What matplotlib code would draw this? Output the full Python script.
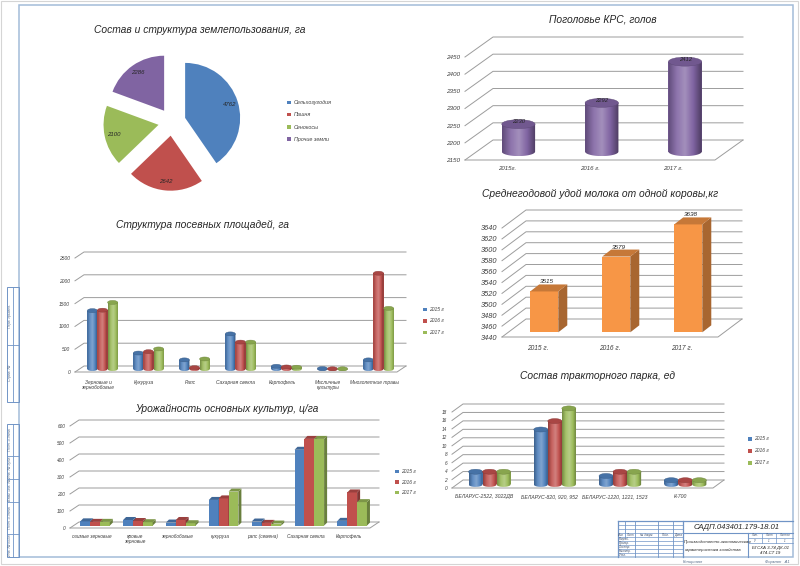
import numpy as np
import matplotlib
matplotlib.use('Agg')
import matplotlib.pyplot as plt
from matplotlib.patches import Polygon, Ellipse, Rectangle
from matplotlib.colors import LinearSegmentedColormap, to_rgb

# ---------------- data ----------------
pie_labels = ['Сельхозугодия', 'Пашня', 'Сенокосы', 'Прочие земли']
pie_values = [4762, 2642, 2100, 2286]

krs_years = ['2015г.', '2016 г.', '2017 г.']
krs_values = [2230, 2292, 2412]
krs_ticks = [2150, 2200, 2250, 2300, 2350, 2400, 2450]

milk_years = ['2015 г.', '2016 г.', '2017 г.']
milk_values = [3515, 3579, 3638]
milk_ticks = [3440, 3460, 3480, 3500, 3520, 3540, 3560, 3580, 3600, 3620, 3640]

series_years = ['2015 г', '2016 г', '2017 г']

crop_cats = ['Зерновые и\nзернобобовые', 'Кукуруза', 'Рапс', 'Сахарная свекла',
             'Картофель', 'Масличные\nкультуры', 'Многолетние травы']
crop_2015 = [1280, 350, 200, 770, 60, 10, 200]
crop_2016 = [1290, 380, 30, 590, 45, 5, 2100]
crop_2017 = [1460, 440, 220, 590, 40, 5, 1330]
crop_ticks = [0, 500, 1000, 1500, 2000, 2500]

yield_cats = ['озимые зерновые', 'яровые\nзерновые', 'зернобобовые', 'кукуруза',
              'рапс (семена)', 'Сахарная свекла', 'Картофель']
yield_2015 = [25, 33, 18, 151, 24, 446, 28]
yield_2016 = [22, 27, 33, 160, 16, 510, 195]
yield_2017 = [22, 20, 14, 200, 12, 510, 138]
yield_ticks = [0, 100, 200, 300, 400, 500, 600]

tractor_cats = ['БЕЛАРУС-2522, 3022ДВ', 'БЕЛАРУС-820, 920, 952',
                'БЕЛАРУС-1220, 1221, 1523', 'К-700']
tractor_2015 = [3, 13, 2, 1]
tractor_2016 = [3, 15, 3, 1]
tractor_2017 = [3, 18, 3, 1]
tractor_ticks = [0, 2, 4, 6, 8, 10, 12, 14, 16, 18]

# ---------------- style ----------------
W, H = 800, 566
plt.rcParams['font.family'] = ['Liberation Sans', 'DejaVu Sans']
plt.rcParams['font.style'] = 'italic'

BLUE, RED, GREEN, PURPLE, ORANGE = '#4f81bd', '#c0504d', '#9bbb59', '#8064a2', '#f79646'
TXT = '#262626'
TICK = '#404040'
GRID = '#9c9c9c'
BL = '#7094c6'
SMALL = '#3a4a66'

fig = plt.figure(figsize=(W / 100, H / 100), dpi=100)
fig.patch.set_facecolor('white')


def shade(c, k):
    r = np.array(to_rgb(c))
    return tuple(np.clip(r * k, 0, 1))


def tint(c, k):
    r = np.array(to_rgb(c))
    return tuple(r + (1 - r) * k)


# ---------------- sheet frame ----------------
bg = fig.add_axes([0, 0, 1, 1])
bg.set_xlim(0, W)
bg.set_ylim(H, 0)
bg.axis('off')
bg.add_patch(Rectangle((1, 1), 797, 563, fill=False, edgecolor='#d5d5d5', lw=0.8))
bg.add_patch(Rectangle((19, 5), 774, 552, fill=False, edgecolor='#a3bcd9', lw=1.1))


def ln(x0, y0, x1, y1, lw=0.6):
    bg.plot([x0, x1], [y0, y1], color=BL, lw=lw)


# left strip
for (ya, yb, divs) in [(287, 402, [345]), (424, 557, [456, 479, 502, 534])]:
    bg.add_patch(Rectangle((7, ya), 12, yb - ya, fill=False, edgecolor=BL, lw=0.7))
    ln(13, ya, 13, yb)
    for d in divs:
        ln(7, d, 19, d)
strip_txt = [('Перв. примен.', 316), ('Справ. №', 373), ('Подп. и дата', 440),
             ('Инв. № дубл.', 467), ('Взам. инв. №', 490), ('Подп. и дата', 518),
             ('Инв. № подл.', 545)]
for t, y in strip_txt:
    bg.text(10, y, t, rotation=90, fontsize=2.6, color='#5a6f8c', ha='center', va='center')

# title block
ln(618, 521, 793, 521, 0.9)
ln(618, 521, 618, 557, 0.9)
for x in [625, 635, 658, 673]:
    ln(x, 521, x, 537 if x == 625 else 557)
ln(683, 521, 683, 557, 0.9)
for y in [525, 529, 533, 537, 541, 545, 549, 553]:
    ln(618, y, 683, y, 0.5)
ln(683, 533, 793, 533, 0.8)
ln(748, 533, 748, 557, 0.8)
ln(748, 538, 793, 538, 0.5)
ln(748, 543, 793, 543, 0.5)
ln(762, 533, 762, 543, 0.5)
ln(776, 533, 776, 543, 0.5)
for t, x in [('Изм.', 621.5), ('Лист', 630), ('№ докум.', 646.5), ('Подп.', 665.5), ('Дата', 678)]:
    bg.text(x, 535.2, t, fontsize=2.2, color=SMALL, ha='center', va='center')
for t, y in [('Разраб.', 539), ('Провер.', 543), ('Т.контр.', 547), ('Н.контр.', 551), ('Утв.', 555)]:
    bg.text(619, y, t, fontsize=2.2, color=SMALL, ha='left', va='center')
bg.text(737, 527.5, 'САДП.043401.179-18.01', fontsize=5.6, color=TXT, ha='center', va='center')
bg.text(684, 541.5, 'Производственно-экономическая', fontsize=3.1, color=TXT, ha='left', va='center')
bg.text(684, 549.5, 'характеристика хозяйства', fontsize=3.1, color=TXT, ha='left', va='center')
for t, x in [('Лит.', 755), ('Лист', 769), ('Листов', 784.5)]:
    bg.text(x, 535.5, t, fontsize=2.1, color=SMALL, ha='center', va='center')
for t, x in [('У', 755), ('1', 769), ('1', 784.5)]:
    bg.text(x, 540.6, t, fontsize=2.1, color=SMALL, ha='center', va='center')
bg.text(770.5, 547.5, 'БГСХА 3-74 ДК-01', fontsize=3.2, color=TXT, ha='center', va='center')
bg.text(770.5, 552.5, '474-СТ 19', fontsize=3.2, color=TXT, ha='center', va='center')
bg.text(693, 562, 'Копировал', fontsize=3, color='#5a6f8c', ha='center', va='center')
bg.text(777, 562, 'Формат   А1', fontsize=3, color='#5a6f8c', ha='center', va='center')

# chart titles
titles = [('Состав и структура землепользования, га', 200, 30),
          ('Поголовье КРС, голов', 603, 19),
          ('Среднегодовой удой молока от одной коровы,кг', 600, 194),
          ('Структура посевных площадей, га', 202, 225),
          ('Урожайность основных культур, ц/га', 227, 409),
          ('Состав тракторного парка, ед', 597, 376)]
for t, x, y in titles:
    bg.text(x, y, t, fontsize=7.4, color=TXT, ha='center', va='center')


# ---------------- 3D-like chart helper ----------------
class Chart3D:
    def __init__(self, box, cats, ymin, ymax, yticks, dx, dy, tick_fs, cat_fs, cat_gap,
                 top_m=28, bot_m=2):
        x0, yt, x1, yb = box
        n = len(cats)
        self.n = n
        self.ymin = ymin
        self.sx = (x1 - x0) / n
        self.sy = (yb - yt) / (ymax - ymin)
        self.lo = ymin - bot_m / self.sy
        self.hi = ymax + top_m / self.sy
        ax = fig.add_axes([x0 / W, 1 - (yb + bot_m) / H, (x1 - x0) / W,
                           (yb - yt + top_m + bot_m) / H])
        self.ax = ax
        ax.patch.set_alpha(0)
        for s in ax.spines.values():
            s.set_visible(False)
        self.reset()
        ax.set_yticks(yticks)
        ax.set_yticklabels([str(v) for v in yticks], fontsize=tick_fs, color=TICK)
        ax.set_xticks(range(n))
        ax.set_xticklabels(cats, fontsize=cat_fs, color=TICK, linespacing=1.1)
        ax.tick_params(axis='y', length=0, pad=3.5)
        ax.tick_params(axis='x', length=0, pad=max(cat_gap - bot_m, 0) * 0.72)
        self.dxd = dx / self.sx
        self.dyd = dy / self.sy
        for y in yticks:
            ax.plot([-0.5, -0.5 + self.dxd, n - 0.5 + self.dxd],
                    [y, y + self.dyd, y + self.dyd],
                    color=GRID, lw=0.7, clip_on=False, zorder=1)
        ax.plot([-0.5, n - 0.5, n - 0.5 + self.dxd],
                [ymin, ymin, ymin + self.dyd], color=GRID, lw=0.7, clip_on=False, zorder=1)

    def reset(self):
        self.ax.set_xlim(-0.5, self.n - 0.5)
        self.ax.set_ylim(self.lo, self.hi)
        self.ax.set_aspect('auto')

    def boxes(self, xs, vals, w, color, f, bdx, bdy, z):
        ox, oy = f * self.dxd, f * self.dyd
        bdxd, bdyd = bdx / self.sx, bdy / self.sy
        v = np.asarray(vals, float)
        bars = self.ax.bar(np.asarray(xs) + ox, v - self.ymin, width=w, bottom=self.ymin + oy,
                           color=color, zorder=z, linewidth=0)
        for r in bars:
            xl = r.get_x(); xr = xl + r.get_width()
            b0 = r.get_y(); t0 = b0 + r.get_height()
            self.ax.add_patch(Polygon([(xr, b0), (xr, t0), (xr + bdxd, t0 + bdyd), (xr + bdxd, b0 + bdyd)],
                                      closed=True, facecolor=shade(color, 0.68), lw=0, zorder=z))
            self.ax.add_patch(Polygon([(xl, t0), (xr, t0), (xr + bdxd, t0 + bdyd), (xl + bdxd, t0 + bdyd)],
                                      closed=True, facecolor=shade(color, 0.8), lw=0, zorder=z))
        return bars

    def cylinders(self, xs, vals, w, color, f, eh, z):
        ox, oy = f * self.dxd, f * self.dyd
        ehd = eh / self.sy
        v = np.asarray(vals, float)
        bars = self.ax.bar(np.asarray(xs) + ox, v - self.ymin, width=w, bottom=self.ymin + oy,
                           color=color, zorder=z, linewidth=0)
        cmap = LinearSegmentedColormap.from_list(
            'cyl', [shade(color, 0.75), tint(color, 0.1), tint(color, 0.28), color, shade(color, 0.6)])
        grad = np.linspace(0, 1, 64).reshape(1, -1)
        t = np.linspace(0, np.pi, 40)
        for r in bars:
            xl = r.get_x(); wd = r.get_width(); xr = xl + wd
            b0 = r.get_y(); t0 = b0 + r.get_height()
            xc = xl + wd / 2; a = wd / 2; bb = ehd / 2
            verts = [(xl, t0)] + list(zip(xc - a * np.cos(t), b0 - bb * np.sin(t))) + [(xr, t0)]
            poly = Polygon(verts, closed=True, facecolor='none', lw=0, zorder=z)
            self.ax.add_patch(poly)
            im = self.ax.imshow(grad, extent=[xl, xr, b0 - bb, t0], aspect='auto', cmap=cmap,
                                zorder=z, interpolation='bilinear')
            im.set_clip_path(poly)
            self.ax.add_patch(Ellipse((xc, t0), wd, ehd, facecolor=shade(color, 0.88),
                                      edgecolor=shade(color, 0.72), lw=0.3, zorder=z))
        self.reset()
        return bars


def legend(ax, handles, labels, x, y, fs, spacing):
    ax.legend(handles, labels, loc='center left', bbox_to_anchor=(x / W, 1 - y / H),
              bbox_transform=fig.transFigure, frameon=False, fontsize=fs,
              handlelength=0.7, handleheight=0.7, handletextpad=0.5,
              labelspacing=spacing, borderpad=0, borderaxespad=0, labelcolor=TICK)


# ---------------- pie ----------------
cx, cy, rad = 172, 122, 55
half = 75
pax = fig.add_axes([(cx - half) / W, 1 - (cy + half) / H, 2 * half / W, 2 * half / H])
total = sum(pie_values)
wedges, _, autotexts = pax.pie(pie_values, colors=[BLUE, RED, GREEN, PURPLE], startangle=90,
                               counterclock=False, explode=[0.25] * 4,
                               autopct=lambda p: '%d' % round(p * total / 100),
                               pctdistance=0.84, wedgeprops=dict(linewidth=0),
                               textprops=dict(fontsize=4.3, color=TXT))
pax.set_xlim(-half / rad, half / rad)
pax.set_ylim(-half / rad, half / rad)
legend(pax, wedges, pie_labels, 287, 121, 3.9, 1.3)

# ---------------- KRS cylinders ----------------
krs = Chart3D((465, 57, 715, 160), krs_years, 2150, 2450, krs_ticks, 28, 20, 4.6, 4.4, 6)
kb = krs.cylinders(np.arange(len(krs_values)), krs_values, 0.4, PURPLE, 0.42, 9, 3)
for r, v in zip(kb, krs_values):
    krs.ax.text(r.get_x() + r.get_width() / 2, r.get_y() + r.get_height(), str(v),
                fontsize=4.2, color=TXT, ha='center', va='bottom', zorder=10)

# ---------------- milk boxes ----------------
milk = Chart3D((502, 228, 718, 337), milk_years, 3440, 3640, milk_ticks, 24, 18, 5.3, 4.8, 8)
mb = milk.boxes(np.arange(len(milk_values)), milk_values, 0.39, ORANGE, 0.26, 9, 7, 3)
for r, v in zip(mb, milk_values):
    milk.ax.text(r.get_x() + r.get_width() / 2 + 0.04, r.get_y() + r.get_height() + 7 / milk.sy, str(v),
                 fontsize=4.6, color=TXT, ha='center', va='bottom', zorder=10)

# ---------------- crop structure cylinders ----------------
crop = Chart3D((75, 258, 397, 372), crop_cats, 0, 2500, crop_ticks, 9, 6, 3.5, 3.5, 8)
cw = 0.22
hs = []
for k, (vals, col) in enumerate(zip([crop_2015, crop_2016, crop_2017], [BLUE, RED, GREEN])):
    hs.append(crop.cylinders(np.arange(len(vals)) + (k - 1) * cw, vals, cw, col, 0.5, 4, 3 + k))
legend(crop.ax, hs, series_years, 423, 321, 3.6, 1.3)

# ---------------- yield boxes ----------------
yl = Chart3D((70, 426, 370, 528), yield_cats, 0, 600, yield_ticks, 9, 6, 3.4, 3.4, 6)
yw = 0.23
hs = []
for k, (vals, col) in enumerate(zip([yield_2015, yield_2016, yield_2017], [BLUE, RED, GREEN])):
    hs.append(yl.boxes(np.arange(len(vals)) + (k - 1) * yw, vals, yw, col, 0.4, 3, 3, 3 + k))
legend(yl.ax, hs, series_years, 395, 482, 3.6, 1.1)

# ---------------- tractor cylinders ----------------
tr = Chart3D((452, 412, 713, 488), tractor_cats, 0, 18, tractor_ticks, 11, 8, 3.4, 3.7, 6)
tw = 0.215
hs = []
for k, (vals, col) in enumerate(zip([tractor_2015, tractor_2016, tractor_2017], [BLUE, RED, GREEN])):
    hs.append(tr.cylinders(np.arange(len(vals)) + (k - 1) * tw, vals, tw, col, 0.45, 5, 3 + k))
legend(tr.ax, hs, series_years, 748, 451, 3.6, 1.4)

fig.savefig('out.png', dpi=100, facecolor='white')
